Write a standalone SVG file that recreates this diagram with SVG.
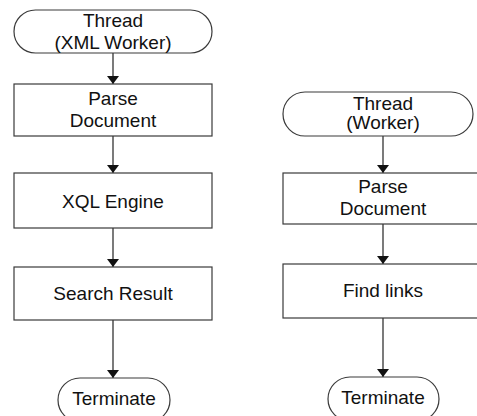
<svg xmlns="http://www.w3.org/2000/svg" width="477" height="416" viewBox="0 0 477 416">
  <defs>
    <marker id="arrow" viewBox="0 0 8 12" refX="8" refY="6" markerWidth="8" markerHeight="12" markerUnits="userSpaceOnUse" orient="auto">
      <path d="M0,0 L8,6 L0,12 Z" fill="#111"/>
    </marker>
    <style>
      .shape { fill: #fff; stroke: #3a3a3a; stroke-width: 1.2; }
      .label { font-family: "Liberation Sans", Arial, sans-serif; font-size: 19px; fill: #111; text-anchor: middle; }
      .link { fill: none; stroke: #222; stroke-width: 1.2; marker-end: url(#arrow); }
    </style>
  </defs>
  <rect width="477" height="416" fill="#fff"/>

  <!-- connectors -->
  <g id="connectors">
    <line class="link" x1="113" y1="53" x2="113" y2="84"/>
    <line class="link" x1="113" y1="136" x2="113" y2="173"/>
    <line class="link" x1="113" y1="228" x2="113" y2="267"/>
    <line class="link" x1="113" y1="320" x2="113" y2="378"/>
    <line class="link" x1="383" y1="136" x2="383" y2="173"/>
    <line class="link" x1="383" y1="224" x2="383" y2="264"/>
    <line class="link" x1="383" y1="318" x2="383" y2="377"/>
  </g>

  <!-- XML worker flow -->
  <g id="xml-thread">
    <rect class="shape" x="14" y="10" width="198" height="43" rx="21.5" ry="21.5"/>
    <text class="label" x="113" y="27">Thread</text>
    <text class="label" x="113" y="49">(XML Worker)</text>
  </g>
  <g id="xml-parse">
    <rect class="shape" x="14" y="84" width="198" height="52"/>
    <text class="label" x="113" y="105">Parse</text>
    <text class="label" x="113" y="127">Document</text>
  </g>
  <g id="xql-engine">
    <rect class="shape" x="14" y="173" width="198" height="55"/>
    <text class="label" x="113" y="208">XQL Engine</text>
  </g>
  <g id="search-result">
    <rect class="shape" x="14" y="267" width="198" height="53"/>
    <text class="label" x="113" y="300">Search Result</text>
  </g>
  <g id="xml-terminate">
    <rect class="shape" x="58" y="378" width="112" height="44" rx="22" ry="22"/>
    <text class="label" x="114" y="405">Terminate</text>
  </g>

  <!-- worker flow -->
  <g id="worker-thread">
    <rect class="shape" x="283" y="92" width="190" height="44" rx="22" ry="22"/>
    <text class="label" x="383" y="110">Thread</text>
    <text class="label" x="383" y="129">(Worker)</text>
  </g>
  <g id="worker-parse">
    <rect class="shape" x="283" y="173" width="200" height="51"/>
    <text class="label" x="383" y="193">Parse</text>
    <text class="label" x="383" y="215">Document</text>
  </g>
  <g id="find-links">
    <rect class="shape" x="283" y="264" width="200" height="54"/>
    <text class="label" x="383" y="297">Find links</text>
  </g>
  <g id="worker-terminate">
    <rect class="shape" x="328" y="377" width="111" height="44" rx="22" ry="22"/>
    <text class="label" x="383" y="404">Terminate</text>
  </g>
</svg>
